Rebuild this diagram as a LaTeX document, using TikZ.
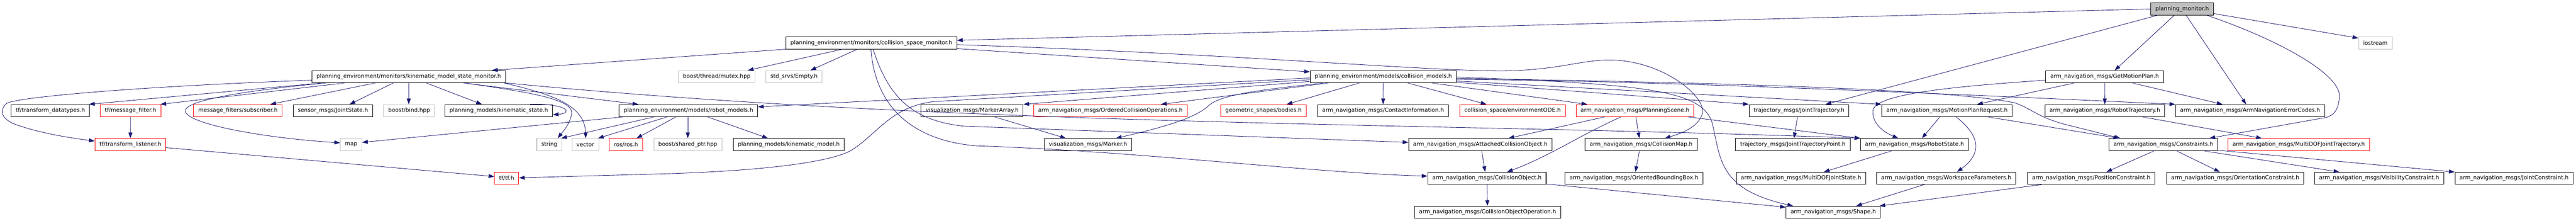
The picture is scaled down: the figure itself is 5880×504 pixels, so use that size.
\documentclass[tikz,border=0pt]{standalone}
\usepackage{fontspec}
\setmainfont{DejaVu Sans}
\usepackage{tikz}
\usetikzlibrary{calc}
\usetikzlibrary{arrows.meta}

\definecolor{edgeblue}{HTML}{191970}
\definecolor{hdrgray}{HTML}{BFBFBF}
\definecolor{hdrred}{HTML}{FF0000}

\begin{document}
\begin{tikzpicture}[x=1pt,y=-1pt,
  hdr/.style={draw=black, fill=white, line width=1.2pt, inner xsep=10.4pt, inner ysep=0pt,
    minimum height=27.5pt, font=\fontsize{12.7}{15}\selectfont},
  hdrtrunc/.style={hdr, draw=hdrred},
  hdrext/.style={hdr, draw=hdrgray},
  dep/.style={draw=edgeblue, line width=1pt, -{Triangle[length=13pt,width=9pt]}}]

\useasboundingbox (0,0) rectangle (5880,504);

% row 0 and 1
\node[hdr, fill=hdrgray] (pm) at (4981,20.5) {planning\_monitor.h};
\node[hdr] (csm) at (1989,98) {planning\_environment/monitors/collision\_space\_monitor.h};
\node[hdrext] (iostream) at (5422,98) {iostream};

% row 2
\node[hdr] (kmsm) at (933,175) {planning\_environment/monitors/kinematic\_model\_state\_monitor.h};
\node[hdrext] (mutex) at (1636,175) {boost/thread/mutex.hpp};
\node[hdrext] (empty) at (1812.5,175) {std\_srvs/Empty.h};
\node[hdr] (cm) at (3157.5,175) {planning\_environment/models/collision\_models.h};
\node[hdr] (gmp) at (4804,175) {arm\_navigation\_msgs/GetMotionPlan.h};

% row 3
\node[hdr] (datatypes) at (115,252.5) {tf/transform\_datatypes.h};
\node[hdrtrunc] (msgfilter) at (298,252.5) {tf/message\_filter.h};
\node[hdrtrunc] (subscriber) at (543,252.5) {message\_filters/subscriber.h};
\node[hdr] (jointstate) at (760,252.5) {sensor\_msgs/JointState.h};
\node[hdrext] (bind) at (934,252.5) {boost/bind.hpp};
\node[hdr] (kinstate) at (1138.5,252.5) {planning\_models/kinematic\_state.h};
\node[hdr] (robotmodels) at (1571.5,252.5) {planning\_environment/models/robot\_models.h};
\node[hdr] (markerarray) at (2219,252.5) {visualization\_msgs/MarkerArray.h};
\node[hdrtrunc] (ordered) at (2534.5,252.5) {arm\_navigation\_msgs/OrderedCollisionOperations.h};
\node[hdrtrunc] (bodies) at (2884,252.5) {geometric\_shapes/bodies.h};
\node[hdr] (contact) at (3157,252.5) {arm\_navigation\_msgs/ContactInformation.h};
\node[hdrtrunc] (envode) at (3452.5,252.5) {collision\_space/environmentODE.h};
\node[hdrtrunc] (planscene) at (3732,252.5) {arm\_navigation\_msgs/PlanningScene.h};
\node[hdr] (jtraj) at (4106.5,252.5) {trajectory\_msgs/JointTrajectory.h};
\node[hdr] (mpr) at (4444,252.5) {arm\_navigation\_msgs/MotionPlanRequest.h};
\node[hdr] (robtraj) at (4804.5,252.5) {arm\_navigation\_msgs/RobotTrajectory.h};
\node[hdr] (errcodes) at (5136,252.5) {arm\_navigation\_msgs/ArmNavigationErrorCodes.h};

% row 4
\node[hdrtrunc] (listener) at (297.5,330) {tf/transform\_listener.h};
\node[hdrext] (map) at (801.5,330) {map};
\node[hdrext] (string) at (1254,330) {string};
\node[hdrext] (vector) at (1336,330) {vector};
\node[hdrtrunc] (ros) at (1429,330) {ros/ros.h};
\node[hdrext] (sharedptr) at (1570,330) {boost/shared\_ptr.hpp};
\node[hdr] (kinmodel) at (1800.5,330) {planning\_models/kinematic\_model.h};
\node[hdr] (marker) at (2483.5,330) {visualization\_msgs/Marker.h};
\node[hdr] (aco) at (3379,330) {arm\_navigation\_msgs/AttachedCollisionObject.h};
\node[hdr] (colmap) at (3746,330) {arm\_navigation\_msgs/CollisionMap.h};
\node[hdr] (jtpoint) at (4092.5,330) {trajectory\_msgs/JointTrajectoryPoint.h};
\node[hdr] (robstate) at (4370,330) {arm\_navigation\_msgs/RobotState.h};
\node[hdr] (constraints) at (4938,330) {arm\_navigation\_msgs/Constraints.h};
\node[hdrtrunc] (mdoftraj) at (5247,330) {arm\_navigation\_msgs/MultiDOFJointTrajectory.h};

% row 5 and 6
\node[hdrtrunc] (tf) at (1156.5,407) {tf/tf.h};
\node[hdr] (colobj) at (3394,407) {arm\_navigation\_msgs/CollisionObject.h};
\node[hdr] (obb) at (3729.5,407) {arm\_navigation\_msgs/OrientedBoundingBox.h};
\node[hdr] (mdofstate) at (4111,407) {arm\_navigation\_msgs/MultiDOFJointState.h};
\node[hdr] (workspace) at (4442.5,407) {arm\_navigation\_msgs/WorkspaceParameters.h};
\node[hdr] (posc) at (4773.5,407) {arm\_navigation\_msgs/PositionConstraint.h};
\node[hdr] (orientc) at (5102,407) {arm\_navigation\_msgs/OrientationConstraint.h};
\node[hdr] (visc) at (5430.5,407) {arm\_navigation\_msgs/VisibilityConstraint.h};
\node[hdr] (jointc) at (5738.5,407) {arm\_navigation\_msgs/JointConstraint.h};
\node[hdr] (coo) at (3395.5,484.5) {arm\_navigation\_msgs/CollisionObjectOperation.h};
\node[hdr] (shape) at (4184.5,484.5) {arm\_navigation\_msgs/Shape.h};

% planning_monitor.h
\draw[dep] (pm.west) -- (csm.east |- 0,92);
\draw[dep] (pm.south -| 4925,0) -- (jtraj.north -| 4167,0);
\draw[dep] (pm.south -| 4963,0) -- (gmp.north -| 4827,0);
\draw[dep] (pm.south -| 4990,0) -- (errcodes.north -| 5127,0);
\draw[dep] (pm.south -| 5037,0) .. controls (5200,90) and (5345,170) .. (5340,222) .. controls (5337,252) and (5328,262) .. (5310,268) -- (constraints.north -| 5043,0);
\draw[dep] (pm.east |- 0,31) -- (iostream.west |- 0,87);

% collision_space_monitor.h
\draw[dep] (csm.south west) -- (kmsm.north -| 1123,0);
\draw[dep] (csm.south -| 1923,0) -- (mutex.north -| 1707,0);
\draw[dep] (csm.south -| 1957,0) -- (empty.north -| 1850,0);
\draw[dep] (csm.east |- 0,111) -- (cm.west |- 0,164);
\draw[dep] (csm.east |- 0,102) .. controls (2800,122) and (3250,162) .. (3430,162) .. controls (3560,160) and (3610,136) .. (3677,137) .. controls (3800,139) and (3900,225) .. (3885,262) .. controls (3875,290) and (3840,304) .. (colmap.north -| 3800,0);
\draw[dep] (csm.south -| 1993,0) .. controls (2030,230) and (2090,276) .. (2200,288) -- (aco.west |- 0,325);
\draw[dep] (csm.south -| 1988,0) .. controls (1998,250) and (2090,322) .. (2230,333) .. controls (2600,345) and (3000,395) .. (colobj.west |- 0,402);

% kinematic_model_state_monitor.h
\draw[dep] (kmsm.south -| 735,0) -- (datatypes.north -| 203,0);
\draw[dep] (kmsm.south -| 787,0) -- (msgfilter.north -| 366,0);
\draw[dep] (kmsm.west |- 0,183) .. controls (300,198) and (40,222) .. (15,236) .. controls (0,250) and (0,268) .. (30,282) .. controls (90,305) and (170,316) .. (listener.west |- 0,322);
\draw[dep] (kmsm.south -| 745,0) .. controls (600,203) and (428,225) .. (423,252) .. controls (420,282) and (600,315) .. (map.west |- 0,326);
\draw[dep] (kmsm.south -| 857,0) -- (subscriber.north -| 617,0);
\draw[dep] (kmsm.south -| 898,0) -- (jointstate.north -| 798,0);
\draw[dep] (kmsm.south -| 933,0) -- (bind.north -| 933,0);
\draw[dep] (kmsm.south -| 973,0) -- (kinstate.north -| 1100,0);
\draw[dep] (kmsm.south -| 1057,0) -- (robotmodels.north -| 1457,0);
\draw[dep] (kmsm.south -| 1062,0) .. controls (1200,210) and (1310,225) .. (1305,260) .. controls (1300,285) and (1285,300) .. (string.north -| 1273,0);
\draw[dep] (kmsm.south -| 1150,0) .. controls (1260,215) and (1335,240) .. (vector.north -| 1337,0);
\draw[dep] (kmsm.south east) .. controls (2200,290) and (3300,280) .. (robstate.north west);

\draw[dep] (kinstate.north -| 1210,0) .. controls (1295,236) and (1310,258) .. (kinstate.east |- 0,262);
\draw[dep] (msgfilter) -- (listener);
\draw[dep] (listener.east |- 0,337) -- (tf.west |- 0,403);

% robot_models.h
\draw[dep] (robotmodels.south -| 1423,0) -- (map.east |- 0,325);
\draw[dep] (robotmodels.south -| 1493,0) -- (string.north -| 1281,0);
\draw[dep] (robotmodels.south -| 1523,0) -- (vector.north -| 1365,0);
\draw[dep] (robotmodels.south -| 1543,0) -- (ros.north -| 1453,0);
\draw[dep] (robotmodels.south -| 1570,0) -- (sharedptr.north -| 1570,0);
\draw[dep] (robotmodels.south -| 1615,0) -- (kinmodel.north -| 1753,0);

% collision_models.h
\draw[dep] (cm.west |- 0,178) -- (robotmodels.east |- 0,244);
\draw[dep] (cm.west |- 0,182) -- (2130,232) .. controls (2030,245) and (2000,310) .. (1940,345) .. controls (1880,375) and (1700,393) .. (1470,398) -- (tf.east |- 0,406);
\draw[dep] (cm.west |- 0,186) -- (markerarray.north east);
\draw[dep] (cm.south -| 3033,0) -- (ordered.north -| 2650,0);
\draw[dep] (cm.south -| 3020,0) .. controls (2880,205) and (2790,215) .. (2760,240) .. controls (2730,270) and (2650,292) .. (marker.north -| 2547,0);
\draw[dep] (cm.south -| 3103,0) -- (bodies.north -| 2937,0);
\draw[dep] (cm) -- (contact);
\draw[dep] (cm.south -| 3213,0) -- (envode.north -| 3393,0);
\draw[dep] (cm.south -| 3268,0) -- (planscene.north -| 3623,0);
\draw[dep] (cm.east |- 0,188) -- (jtraj.north west);
\draw[dep] (cm.east |- 0,185) -- (mpr.north west);
\draw[dep] (cm.east |- 0,181) .. controls (3700,185) and (4100,198) .. (errcodes.north west);
\draw[dep] (cm.east |- 0,179) .. controls (3900,188) and (4450,203) .. (4600,235) .. controls (4640,250) and (4650,266) .. (4710,283) -- (constraints.north -| 4840,0);
\draw[dep] (cm.east |- 0,176) .. controls (3750,192) and (3885,205) .. (3908,280) .. controls (3928,360) and (3920,432) .. (shape.north -| 4093,0);

% GetMotionPlan.h
\draw[dep] (gmp.south -| 4735,0) -- (mpr.north -| 4513,0);
\draw[dep] (gmp) -- (robtraj);
\draw[dep] (gmp.south -| 4867,0) -- (errcodes.north -| 5073,0);
\draw[dep] (gmp.west |- 0,183) .. controls (4450,198) and (4278,215) .. (4275,253) .. controls (4273,282) and (4300,302) .. (robstate.north -| 4333,0);

% MotionPlanRequest.h
\draw[dep] (mpr.south -| 4428,0) -- (robstate.north -| 4387,0);
\draw[dep] (mpr.south -| 4465,0) .. controls (4520,310) and (4525,350) .. (workspace.north -| 4467,0);
\draw[dep] (mpr.south -| 4537,0) -- (constraints.north -| 4837,0);

% messages
\draw[dep] (markerarray.south -| 2270,0) -- (marker.north -| 2433,0);
\draw[dep] (planscene.south -| 3663,0) -- (aco.north -| 3443,0);
\draw[dep] (planscene.south -| 3700,0) .. controls (3600,312) and (3540,355) .. (colobj.north -| 3440,0);
\draw[dep] (planscene.south -| 3734,0) -- (colmap.north -| 3742,0);
\draw[dep] (planscene.south -| 3853,0) -- (robstate.north west);
\draw[dep] (aco.south -| 3382,0) -- (colobj.north -| 3390,0);
\draw[dep] (colobj) -- (coo);
\draw[dep] (colobj.east |- 0,420) -- (shape.west |- 0,473);
\draw[dep] (colmap.south -| 3742,0) -- (obb.north -| 3733,0);
\draw[dep] (jtraj.south -| 4103,0) -- (jtpoint.north -| 4095,0);
\draw[dep] (robstate.south -| 4318,0) -- (mdofstate.north -| 4163,0);
\draw[dep] (workspace.south -| 4392,0) -- (shape.north -| 4237,0);
\draw[dep] (posc.south -| 4660,0) -- (shape.north -| 4290,0);
\draw[dep] (constraints.south -| 4917,0) -- (posc.north -| 4808,0);
\draw[dep] (constraints.south -| 4968,0) -- (orientc.north -| 5067,0);
\draw[dep] (constraints.south -| 5030,0) -- (visc.north -| 5340,0);
\draw[dep] (constraints.east |- 0,343) -- (jointc.north west);
\draw[dep] (robtraj.south -| 4890,0) -- (mdoftraj.north -| 5163,0);

\end{tikzpicture}
\end{document}
